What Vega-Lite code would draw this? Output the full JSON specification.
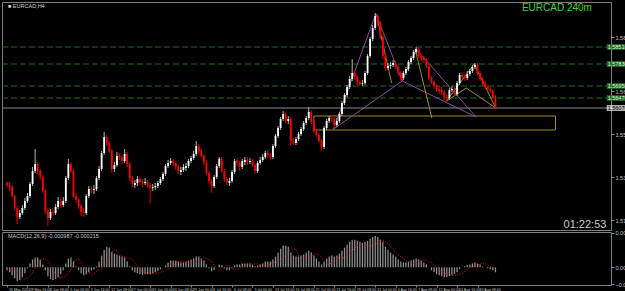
{
"$schema": "https://vega.github.io/schema/vega-lite/v6.json",
"background": "#000000",
"padding": {"left": 1, "top": 1, "right": 0, "bottom": 0},
"spacing": 2,
"bounds": "flush",
"config": {"view": {"stroke": "#808080", "strokeWidth": 1}, "axis": {"labelFont": "Liberation Sans", "labelColor": "#c8c8c8", "domainColor": "#808080", "tickColor": "#808080", "grid": false, "labelOverlap": false}, "text": {"font": "Liberation Sans"}},
"resolve": {"scale": {"x": "independent", "y": "independent", "color": "independent"}},
"datasets": {
"lv": [{"p":1.5851},{"p":1.5783},{"p":1.5695},{"p":1.5647}],
"cur": [{"p":1.5607}],
"zone": [{"a":240,"b":429,"p1":1.5575,"p2":1.5519}],
"pat": [
{"c":"pu","s":"XA","i":255.4,"p":1.5523},{"c":"pu","s":"XA","i":288.5,"p":1.5984},
{"c":"pu","s":"AB","i":288.5,"p":1.5984},{"c":"pu","s":"AB","i":309.2,"p":1.5715},
{"c":"pu","s":"BC","i":309.2,"p":1.5715},{"c":"pu","s":"BC","i":320,"p":1.5843},
{"c":"pu","s":"CD","i":320,"p":1.5843},{"c":"pu","s":"CD","i":366.9,"p":1.5571},
{"c":"pu","s":"XB","i":255.4,"p":1.5523},{"c":"pu","s":"XB","i":309.2,"p":1.5715},
{"c":"pu","s":"BD","i":309.2,"p":1.5715},{"c":"pu","s":"BD","i":366.9,"p":1.5571},
{"c":"go","s":"G1","i":290,"p":1.5955},{"c":"go","s":"G1","i":300.8,"p":1.5707},
{"c":"go","s":"G2","i":319.2,"p":1.5843},{"c":"go","s":"G2","i":332.3,"p":1.5567},
{"c":"go","s":"G3","i":343.8,"p":1.5635},{"c":"go","s":"G3","i":359.2,"p":1.5687},
{"c":"go","s":"G4","i":343.8,"p":1.5635},{"c":"go","s":"G4","i":365.4,"p":1.5783},
{"c":"go","s":"G5","i":365.4,"p":1.5783},{"c":"go","s":"G5","i":382.3,"p":1.5607},
{"c":"go","s":"G6","i":359.2,"p":1.5687},{"c":"go","s":"G6","i":382.3,"p":1.5607}
],
"c": [
{"i":0,"o":1.5307,"h":1.5315,"l":1.5287,"c":1.5299,"m":-0.0006,"s":-0.0004},
{"i":2,"o":1.5299,"h":1.5311,"l":1.5275,"c":1.5291,"m":-0.0010,"s":-0.0005},
{"i":4,"o":1.5291,"h":1.5299,"l":1.5247,"c":1.5255,"m":-0.0016,"s":-0.0006},
{"i":6,"o":1.5255,"h":1.5259,"l":1.5199,"c":1.5207,"m":-0.0022,"s":-0.0005},
{"i":8,"o":1.5207,"h":1.5215,"l":1.5143,"c":1.5171,"m":-0.0028,"s":-0.0009},
{"i":10,"o":1.5171,"h":1.5199,"l":1.5163,"c":1.5187,"m":-0.0026,"s":-0.0014},
{"i":12,"o":1.5187,"h":1.5219,"l":1.5179,"c":1.5207,"m":-0.0020,"s":-0.0019},
{"i":14,"o":1.5207,"h":1.5247,"l":1.5199,"c":1.5235,"m":-0.0012,"s":-0.0024},
{"i":16,"o":1.5235,"h":1.5267,"l":1.5227,"c":1.5255,"m":-0.0002,"s":-0.0022},
{"i":18,"o":1.5255,"h":1.5311,"l":1.5247,"c":1.5303,"m":0.0008,"s":-0.0017},
{"i":20,"o":1.5303,"h":1.5371,"l":1.5295,"c":1.5355,"m":0.0016,"s":-0.0010},
{"i":22,"o":1.5355,"h":1.5443,"l":1.5347,"c":1.5383,"m":0.0020,"s":-0.0002},
{"i":24,"o":1.5383,"h":1.5391,"l":1.5343,"c":1.5355,"m":0.0020,"s":0.0007},
{"i":26,"o":1.5355,"h":1.5363,"l":1.5319,"c":1.5331,"m":0.0016,"s":0.0014},
{"i":28,"o":1.5331,"h":1.5339,"l":1.5267,"c":1.5275,"m":0.0006,"s":0.0017},
{"i":30,"o":1.5275,"h":1.5283,"l":1.5183,"c":1.5195,"m":-0.0006,"s":0.0017},
{"i":32,"o":1.5195,"h":1.5207,"l":1.5135,"c":1.5167,"m":-0.0018,"s":0.0014},
{"i":34,"o":1.5167,"h":1.5203,"l":1.5159,"c":1.5191,"m":-0.0024,"s":0.0005},
{"i":36,"o":1.5191,"h":1.5207,"l":1.5175,"c":1.5187,"m":-0.0026,"s":-0.0005},
{"i":38,"o":1.5187,"h":1.5223,"l":1.5179,"c":1.5211,"m":-0.0024,"s":-0.0015},
{"i":40,"o":1.5211,"h":1.5251,"l":1.5203,"c":1.5235,"m":-0.0020,"s":-0.0020},
{"i":42,"o":1.5235,"h":1.5243,"l":1.5207,"c":1.5219,"m":-0.0014,"s":-0.0022},
{"i":44,"o":1.5219,"h":1.5251,"l":1.5211,"c":1.5235,"m":-0.0006,"s":-0.0020},
{"i":46,"o":1.5235,"h":1.5335,"l":1.5227,"c":1.5327,"m":0.0008,"s":-0.0017},
{"i":48,"o":1.5327,"h":1.5403,"l":1.5319,"c":1.5383,"m":0.0018,"s":-0.0012},
{"i":50,"o":1.5383,"h":1.5391,"l":1.5347,"c":1.5355,"m":0.0020,"s":-0.0005},
{"i":52,"o":1.5355,"h":1.5363,"l":1.5247,"c":1.5255,"m":0.0012,"s":0.0007},
{"i":54,"o":1.5255,"h":1.5267,"l":1.5227,"c":1.5239,"m":0.0002,"s":0.0015},
{"i":56,"o":1.5239,"h":1.5247,"l":1.5203,"c":1.5215,"m":-0.0006,"s":0.0017},
{"i":58,"o":1.5215,"h":1.5223,"l":1.5175,"c":1.5191,"m":-0.0012,"s":0.0010},
{"i":60,"o":1.5191,"h":1.5207,"l":1.5171,"c":1.5187,"m":-0.0016,"s":0.0002},
{"i":62,"o":1.5187,"h":1.5263,"l":1.5179,"c":1.5255,"m":-0.0014,"s":-0.0005},
{"i":64,"o":1.5255,"h":1.5295,"l":1.5247,"c":1.5283,"m":-0.0010,"s":-0.0010},
{"i":66,"o":1.5283,"h":1.5295,"l":1.5267,"c":1.5279,"m":-0.0006,"s":-0.0014},
{"i":68,"o":1.5279,"h":1.5299,"l":1.5263,"c":1.5283,"m":-0.0004,"s":-0.0012},
{"i":70,"o":1.5283,"h":1.5335,"l":1.5275,"c":1.5327,"m":0.0002,"s":-0.0009},
{"i":72,"o":1.5327,"h":1.5375,"l":1.5319,"c":1.5363,"m":0.0012,"s":-0.0005},
{"i":74,"o":1.5363,"h":1.5435,"l":1.5355,"c":1.5427,"m":0.0024,"s":-0.0003},
{"i":76,"o":1.5427,"h":1.5511,"l":1.5419,"c":1.5491,"m":0.0036,"s":0.0002},
{"i":78,"o":1.5491,"h":1.5499,"l":1.5455,"c":1.5467,"m":0.0042,"s":0.0010},
{"i":80,"o":1.5467,"h":1.5475,"l":1.5427,"c":1.5435,"m":0.0040,"s":0.0020},
{"i":82,"o":1.5435,"h":1.5443,"l":1.5347,"c":1.5363,"m":0.0032,"s":0.0031},
{"i":84,"o":1.5363,"h":1.5391,"l":1.5351,"c":1.5379,"m":0.0028,"s":0.0036},
{"i":86,"o":1.5379,"h":1.5431,"l":1.5371,"c":1.5415,"m":0.0026,"s":0.0034},
{"i":88,"o":1.5415,"h":1.5427,"l":1.5399,"c":1.5411,"m":0.0024,"s":0.0027},
{"i":90,"o":1.5411,"h":1.5419,"l":1.5383,"c":1.5395,"m":0.0022,"s":0.0024},
{"i":92,"o":1.5395,"h":1.5443,"l":1.5387,"c":1.5423,"m":0.0020,"s":0.0022},
{"i":94,"o":1.5423,"h":1.5431,"l":1.5371,"c":1.5383,"m":0.0012,"s":0.0020},
{"i":96,"o":1.5383,"h":1.5391,"l":1.5315,"c":1.5327,"m":0.0002,"s":0.0019},
{"i":98,"o":1.5327,"h":1.5335,"l":1.5291,"c":1.5303,"m":-0.0006,"s":0.0017},
{"i":100,"o":1.5299,"h":1.5319,"l":1.5287,"c":1.5307,"m":-0.0010,"s":0.0010},
{"i":102,"o":1.5307,"h":1.5335,"l":1.5295,"c":1.5323,"m":-0.0012,"s":0.0002},
{"i":104,"o":1.5323,"h":1.5331,"l":1.5299,"c":1.5311,"m":-0.0014,"s":-0.0005},
{"i":106,"o":1.5311,"h":1.5323,"l":1.5291,"c":1.5307,"m":-0.0016,"s":-0.0009},
{"i":108,"o":1.5307,"h":1.5327,"l":1.5299,"c":1.5311,"m":-0.0014,"s":-0.0010},
{"i":110,"o":1.5311,"h":1.5319,"l":1.5287,"c":1.5299,"m":-0.0014,"s":-0.0012},
{"i":112,"o":1.5299,"h":1.5307,"l":1.5227,"c":1.5287,"m":-0.0014,"s":-0.0014},
{"i":114,"o":1.5287,"h":1.5303,"l":1.5275,"c":1.5291,"m":-0.0012,"s":-0.0012},
{"i":116,"o":1.5291,"h":1.5307,"l":1.5279,"c":1.5295,"m":-0.0010,"s":-0.0012},
{"i":118,"o":1.5295,"h":1.5315,"l":1.5287,"c":1.5307,"m":-0.0008,"s":-0.0012},
{"i":120,"o":1.5307,"h":1.5331,"l":1.5299,"c":1.5323,"m":-0.0004,"s":-0.0010},
{"i":122,"o":1.5323,"h":1.5351,"l":1.5315,"c":1.5343,"m":0.0000,"s":-0.0009},
{"i":124,"o":1.5343,"h":1.5383,"l":1.5335,"c":1.5375,"m":0.0004,"s":-0.0007},
{"i":126,"o":1.5375,"h":1.5399,"l":1.5367,"c":1.5387,"m":0.0010,"s":-0.0003},
{"i":128,"o":1.5387,"h":1.5407,"l":1.5379,"c":1.5395,"m":0.0014,"s":0.0000},
{"i":130,"o":1.5395,"h":1.5403,"l":1.5375,"c":1.5387,"m":0.0014,"s":0.0003},
{"i":132,"o":1.5387,"h":1.5395,"l":1.5359,"c":1.5371,"m":0.0014,"s":0.0009},
{"i":134,"o":1.5371,"h":1.5379,"l":1.5343,"c":1.5355,"m":0.0012,"s":0.0012},
{"i":136,"o":1.5351,"h":1.5371,"l":1.5339,"c":1.5359,"m":0.0010,"s":0.0012},
{"i":138,"o":1.5359,"h":1.5383,"l":1.5351,"c":1.5371,"m":0.0010,"s":0.0012},
{"i":140,"o":1.5367,"h":1.5387,"l":1.5355,"c":1.5375,"m":0.0012,"s":0.0010},
{"i":142,"o":1.5375,"h":1.5403,"l":1.5367,"c":1.5395,"m":0.0014,"s":0.0009},
{"i":144,"o":1.5395,"h":1.5415,"l":1.5387,"c":1.5407,"m":0.0016,"s":0.0009},
{"i":146,"o":1.5407,"h":1.5435,"l":1.5399,"c":1.5423,"m":0.0018,"s":0.0010},
{"i":148,"o":1.5423,"h":1.5475,"l":1.5415,"c":1.5455,"m":0.0022,"s":0.0012},
{"i":150,"o":1.5455,"h":1.5463,"l":1.5423,"c":1.5435,"m":0.0022,"s":0.0014},
{"i":152,"o":1.5435,"h":1.5443,"l":1.5407,"c":1.5415,"m":0.0018,"s":0.0015},
{"i":154,"o":1.5415,"h":1.5423,"l":1.5379,"c":1.5391,"m":0.0014,"s":0.0019},
{"i":156,"o":1.5391,"h":1.5399,"l":1.5339,"c":1.5347,"m":0.0006,"s":0.0019},
{"i":158,"o":1.5347,"h":1.5355,"l":1.5303,"c":1.5315,"m":-0.0002,"s":0.0015},
{"i":160,"o":1.5315,"h":1.5323,"l":1.5267,"c":1.5295,"m":-0.0008,"s":0.0012},
{"i":162,"o":1.5295,"h":1.5339,"l":1.5287,"c":1.5331,"m":-0.0006,"s":0.0005},
{"i":164,"o":1.5331,"h":1.5383,"l":1.5323,"c":1.5375,"m":0.0000,"s":-0.0002},
{"i":166,"o":1.5375,"h":1.5411,"l":1.5367,"c":1.5403,"m":0.0006,"s":-0.0007},
{"i":168,"o":1.5403,"h":1.5411,"l":1.5347,"c":1.5355,"m":0.0004,"s":-0.0005},
{"i":170,"o":1.5355,"h":1.5363,"l":1.5311,"c":1.5323,"m":-0.0002,"s":0.0000},
{"i":172,"o":1.5323,"h":1.5331,"l":1.5299,"c":1.5311,"m":-0.0006,"s":0.0005},
{"i":174,"o":1.5307,"h":1.5327,"l":1.5295,"c":1.5315,"m":-0.0006,"s":0.0003},
{"i":176,"o":1.5315,"h":1.5359,"l":1.5307,"c":1.5351,"m":-0.0002,"s":-0.0002},
{"i":178,"o":1.5351,"h":1.5403,"l":1.5343,"c":1.5395,"m":0.0004,"s":-0.0005},
{"i":180,"o":1.5395,"h":1.5407,"l":1.5375,"c":1.5387,"m":0.0006,"s":-0.0005},
{"i":182,"o":1.5387,"h":1.5395,"l":1.5355,"c":1.5371,"m":0.0006,"s":-0.0002},
{"i":184,"o":1.5371,"h":1.5403,"l":1.5363,"c":1.5395,"m":0.0008,"s":0.0003},
{"i":186,"o":1.5391,"h":1.5411,"l":1.5379,"c":1.5399,"m":0.0008,"s":0.0005},
{"i":188,"o":1.5399,"h":1.5411,"l":1.5379,"c":1.5391,"m":0.0008,"s":0.0005},
{"i":190,"o":1.5391,"h":1.5407,"l":1.5383,"c":1.5395,"m":0.0008,"s":0.0007},
{"i":192,"o":1.5395,"h":1.5403,"l":1.5371,"c":1.5379,"m":0.0006,"s":0.0007},
{"i":194,"o":1.5379,"h":1.5387,"l":1.5343,"c":1.5355,"m":0.0002,"s":0.0007},
{"i":196,"o":1.5355,"h":1.5395,"l":1.5347,"c":1.5387,"m":0.0004,"s":0.0007},
{"i":198,"o":1.5387,"h":1.5411,"l":1.5379,"c":1.5399,"m":0.0006,"s":0.0005},
{"i":200,"o":1.5399,"h":1.5423,"l":1.5391,"c":1.5411,"m":0.0008,"s":0.0002},
{"i":202,"o":1.5411,"h":1.5435,"l":1.5403,"c":1.5427,"m":0.0012,"s":0.0003},
{"i":204,"o":1.5427,"h":1.5439,"l":1.5407,"c":1.5419,"m":0.0012,"s":0.0005},
{"i":206,"o":1.5419,"h":1.5427,"l":1.5399,"c":1.5411,"m":0.0012,"s":0.0007},
{"i":208,"o":1.5411,"h":1.5463,"l":1.5403,"c":1.5455,"m":0.0016,"s":0.0010},
{"i":210,"o":1.5455,"h":1.5503,"l":1.5447,"c":1.5495,"m":0.0022,"s":0.0010},
{"i":212,"o":1.5495,"h":1.5535,"l":1.5487,"c":1.5527,"m":0.0030,"s":0.0010},
{"i":214,"o":1.5527,"h":1.5571,"l":1.5519,"c":1.5563,"m":0.0038,"s":0.0014},
{"i":216,"o":1.5563,"h":1.5595,"l":1.5555,"c":1.5583,"m":0.0044,"s":0.0019},
{"i":218,"o":1.5583,"h":1.5591,"l":1.5547,"c":1.5555,"m":0.0044,"s":0.0026},
{"i":220,"o":1.5555,"h":1.5575,"l":1.5543,"c":1.5563,"m":0.0042,"s":0.0032},
{"i":222,"o":1.5563,"h":1.5571,"l":1.5455,"c":1.5475,"m":0.0030,"s":0.0037},
{"i":224,"o":1.5475,"h":1.5487,"l":1.5459,"c":1.5467,"m":0.0024,"s":0.0037},
{"i":226,"o":1.5467,"h":1.5491,"l":1.5459,"c":1.5483,"m":0.0022,"s":0.0036},
{"i":228,"o":1.5483,"h":1.5511,"l":1.5475,"c":1.5503,"m":0.0022,"s":0.0026},
{"i":230,"o":1.5503,"h":1.5531,"l":1.5495,"c":1.5523,"m":0.0024,"s":0.0020},
{"i":232,"o":1.5523,"h":1.5555,"l":1.5515,"c":1.5547,"m":0.0026,"s":0.0019},
{"i":234,"o":1.5547,"h":1.5575,"l":1.5539,"c":1.5567,"m":0.0030,"s":0.0019},
{"i":236,"o":1.5567,"h":1.5611,"l":1.5559,"c":1.5591,"m":0.0034,"s":0.0020},
{"i":238,"o":1.5591,"h":1.5599,"l":1.5543,"c":1.5551,"m":0.0030,"s":0.0022},
{"i":240,"o":1.5551,"h":1.5559,"l":1.5507,"c":1.5515,"m":0.0024,"s":0.0026},
{"i":242,"o":1.5515,"h":1.5523,"l":1.5491,"c":1.5499,"m":0.0018,"s":0.0029},
{"i":244,"o":1.5499,"h":1.5507,"l":1.5467,"c":1.5475,"m":0.0012,"s":0.0026},
{"i":246,"o":1.5475,"h":1.5483,"l":1.5435,"c":1.5451,"m":0.0006,"s":0.0020},
{"i":248,"o":1.5451,"h":1.5535,"l":1.5443,"c":1.5527,"m":0.0012,"s":0.0015},
{"i":250,"o":1.5527,"h":1.5563,"l":1.5519,"c":1.5555,"m":0.0018,"s":0.0010},
{"i":252,"o":1.5555,"h":1.5575,"l":1.5547,"c":1.5567,"m":0.0022,"s":0.0005},
{"i":254,"o":1.5567,"h":1.5579,"l":1.5551,"c":1.5563,"m":0.0024,"s":0.0010},
{"i":256,"o":1.5563,"h":1.5571,"l":1.5531,"c":1.5539,"m":0.0022,"s":0.0015},
{"i":258,"o":1.5539,"h":1.5567,"l":1.5531,"c":1.5555,"m":0.0024,"s":0.0019},
{"i":260,"o":1.5555,"h":1.5591,"l":1.5547,"c":1.5583,"m":0.0028,"s":0.0020},
{"i":262,"o":1.5583,"h":1.5635,"l":1.5575,"c":1.5627,"m":0.0034,"s":0.0019},
{"i":264,"o":1.5627,"h":1.5667,"l":1.5619,"c":1.5659,"m":0.0040,"s":0.0020},
{"i":266,"o":1.5659,"h":1.5699,"l":1.5651,"c":1.5691,"m":0.0046,"s":0.0024},
{"i":268,"o":1.5691,"h":1.5735,"l":1.5683,"c":1.5723,"m":0.0052,"s":0.0029},
{"i":270,"o":1.5723,"h":1.5803,"l":1.5715,"c":1.5747,"m":0.0056,"s":0.0034},
{"i":272,"o":1.5747,"h":1.5755,"l":1.5719,"c":1.5731,"m":0.0056,"s":0.0039},
{"i":274,"o":1.5731,"h":1.5739,"l":1.5699,"c":1.5711,"m":0.0054,"s":0.0044},
{"i":276,"o":1.5711,"h":1.5719,"l":1.5695,"c":1.5703,"m":0.0052,"s":0.0048},
{"i":278,"o":1.5703,"h":1.5719,"l":1.5695,"c":1.5707,"m":0.0050,"s":0.0048},
{"i":280,"o":1.5707,"h":1.5755,"l":1.5699,"c":1.5747,"m":0.0052,"s":0.0046},
{"i":282,"o":1.5747,"h":1.5823,"l":1.5739,"c":1.5815,"m":0.0054,"s":0.0044},
{"i":284,"o":1.5815,"h":1.5891,"l":1.5807,"c":1.5883,"m":0.0058,"s":0.0043},
{"i":286,"o":1.5883,"h":1.5939,"l":1.5875,"c":1.5927,"m":0.0062,"s":0.0044},
{"i":288,"o":1.5927,"h":1.5987,"l":1.5919,"c":1.5975,"m":0.0064,"s":0.0046},
{"i":290,"o":1.5975,"h":1.5983,"l":1.5935,"c":1.5947,"m":0.0062,"s":0.0049},
{"i":292,"o":1.5947,"h":1.5955,"l":1.5883,"c":1.5891,"m":0.0056,"s":0.0053},
{"i":294,"o":1.5891,"h":1.5899,"l":1.5803,"c":1.5815,"m":0.0052,"s":0.0054},
{"i":296,"o":1.5815,"h":1.5823,"l":1.5755,"c":1.5767,"m":0.0042,"s":0.0053},
{"i":298,"o":1.5767,"h":1.5787,"l":1.5759,"c":1.5775,"m":0.0036,"s":0.0048},
{"i":300,"o":1.5775,"h":1.5791,"l":1.5763,"c":1.5779,"m":0.0030,"s":0.0044},
{"i":302,"o":1.5779,"h":1.5799,"l":1.5771,"c":1.5787,"m":0.0026,"s":0.0036},
{"i":304,"o":1.5787,"h":1.5795,"l":1.5763,"c":1.5771,"m":0.0022,"s":0.0031},
{"i":306,"o":1.5771,"h":1.5779,"l":1.5735,"c":1.5747,"m":0.0016,"s":0.0026},
{"i":308,"o":1.5747,"h":1.5755,"l":1.5715,"c":1.5727,"m":0.0012,"s":0.0022},
{"i":310,"o":1.5727,"h":1.5755,"l":1.5719,"c":1.5747,"m":0.0010,"s":0.0019},
{"i":312,"o":1.5747,"h":1.5771,"l":1.5739,"c":1.5763,"m":0.0010,"s":0.0014},
{"i":314,"o":1.5763,"h":1.5799,"l":1.5755,"c":1.5791,"m":0.0012,"s":0.0010},
{"i":316,"o":1.5791,"h":1.5815,"l":1.5783,"c":1.5807,"m":0.0014,"s":0.0009},
{"i":318,"o":1.5807,"h":1.5839,"l":1.5799,"c":1.5831,"m":0.0016,"s":0.0009},
{"i":320,"o":1.5831,"h":1.5851,"l":1.5823,"c":1.5843,"m":0.0018,"s":0.0010},
{"i":322,"o":1.5843,"h":1.5851,"l":1.5807,"c":1.5815,"m":0.0016,"s":0.0012},
{"i":324,"o":1.5815,"h":1.5823,"l":1.5795,"c":1.5803,"m":0.0014,"s":0.0014},
{"i":326,"o":1.5807,"h":1.5815,"l":1.5787,"c":1.5799,"m":0.0010,"s":0.0015},
{"i":328,"o":1.5799,"h":1.5807,"l":1.5767,"c":1.5775,"m":0.0006,"s":0.0014},
{"i":330,"o":1.5775,"h":1.5783,"l":1.5719,"c":1.5727,"m":0.0000,"s":0.0012},
{"i":332,"o":1.5727,"h":1.5735,"l":1.5703,"c":1.5711,"m":-0.0006,"s":0.0009},
{"i":334,"o":1.5711,"h":1.5719,"l":1.5683,"c":1.5695,"m":-0.0010,"s":0.0005},
{"i":336,"o":1.5695,"h":1.5703,"l":1.5671,"c":1.5683,"m":-0.0014,"s":0.0000},
{"i":338,"o":1.5683,"h":1.5695,"l":1.5663,"c":1.5675,"m":-0.0016,"s":-0.0005},
{"i":340,"o":1.5679,"h":1.5691,"l":1.5659,"c":1.5671,"m":-0.0018,"s":-0.0009},
{"i":342,"o":1.5671,"h":1.5679,"l":1.5639,"c":1.5651,"m":-0.0020,"s":-0.0012},
{"i":344,"o":1.5651,"h":1.5663,"l":1.5631,"c":1.5647,"m":-0.0020,"s":-0.0014},
{"i":346,"o":1.5647,"h":1.5687,"l":1.5639,"c":1.5679,"m":-0.0018,"s":-0.0015},
{"i":348,"o":1.5679,"h":1.5695,"l":1.5671,"c":1.5683,"m":-0.0016,"s":-0.0017},
{"i":350,"o":1.5683,"h":1.5691,"l":1.5655,"c":1.5663,"m":-0.0014,"s":-0.0017},
{"i":352,"o":1.5663,"h":1.5715,"l":1.5655,"c":1.5707,"m":-0.0010,"s":-0.0015},
{"i":354,"o":1.5707,"h":1.5747,"l":1.5699,"c":1.5739,"m":-0.0004,"s":-0.0014},
{"i":356,"o":1.5739,"h":1.5751,"l":1.5723,"c":1.5731,"m":0.0000,"s":-0.0012},
{"i":358,"o":1.5731,"h":1.5743,"l":1.5715,"c":1.5727,"m":0.0002,"s":-0.0009},
{"i":360,"o":1.5727,"h":1.5755,"l":1.5719,"c":1.5743,"m":0.0004,"s":-0.0003},
{"i":362,"o":1.5743,"h":1.5763,"l":1.5735,"c":1.5755,"m":0.0006,"s":0.0000},
{"i":364,"o":1.5755,"h":1.5779,"l":1.5747,"c":1.5771,"m":0.0008,"s":0.0002},
{"i":366,"o":1.5771,"h":1.5787,"l":1.5763,"c":1.5779,"m":0.0010,"s":0.0003},
{"i":368,"o":1.5779,"h":1.5787,"l":1.5739,"c":1.5747,"m":0.0008,"s":0.0005},
{"i":370,"o":1.5747,"h":1.5755,"l":1.5715,"c":1.5723,"m":0.0006,"s":0.0007},
{"i":372,"o":1.5723,"h":1.5731,"l":1.5695,"c":1.5703,"m":0.0002,"s":0.0009},
{"i":374,"o":1.5703,"h":1.5715,"l":1.5683,"c":1.5691,"m":0.0000,"s":0.0007},
{"i":376,"o":1.5691,"h":1.5699,"l":1.5675,"c":1.5683,"m":-0.0002,"s":0.0005},
{"i":378,"o":1.5683,"h":1.5691,"l":1.5667,"c":1.5675,"m":-0.0004,"s":0.0002},
{"i":380,"o":1.5675,"h":1.5683,"l":1.5643,"c":1.5651,"m":-0.0006,"s":0.0000},
{"i":382,"o":1.5651,"h":1.5659,"l":1.5603,"c":1.5607,"m":-0.0010,"s":-0.0002}
]
},
"vconcat": [
{
"width": 609, "height": 228,
"layer": [
{"data": {"name": "lv"}, "mark": {"type": "rule", "color": "#1f6e1f", "strokeDash": [6, 3], "strokeWidth": 1},
 "encoding": {"y": {"field": "p", "type": "quantitative", "scale": {"domain": [1.5119, 1.6031], "nice": false, "zero": false},
  "axis": {"orient": "right", "values": [1.6019,1.5976,1.5933,1.5890,1.5804,1.5761,1.5718,1.5675,1.5632,1.5589,1.5546,1.5503,1.5460,1.5417,1.5374,1.5331,1.5288,1.5245,1.5202,1.5159], "format": ".5f", "tickSize": 3, "labelPadding": 1, "labelFontSize": 5.5, "labelOverlap": false, "labelFlush": false, "labelBound": false, "title": null}}}},
{"data": {"name": "cur"}, "mark": {"type": "rule", "color": "#8a8a8a", "strokeWidth": 1},
 "encoding": {"y": {"field": "p", "type": "quantitative", "scale": {"domain": [1.5119, 1.6031], "nice": false, "zero": false}}}},
{"data": {"name": "zone"}, "mark": {"type": "rect", "fillOpacity": 0, "stroke": "#9c8a36", "strokeWidth": 1},
 "encoding": {"x": {"field": "a", "type": "quantitative", "scale": {"domain": [0, 468.5], "nice": false, "zero": false}, "axis": null},
  "x2": {"field": "b"},
  "y": {"field": "p1", "type": "quantitative", "scale": {"domain": [1.5119, 1.6031], "nice": false, "zero": false}},
  "y2": {"field": "p2"}}},
{"data": {"name": "pat"}, "mark": {"type": "line", "strokeWidth": 1},
 "encoding": {"x": {"field": "i", "type": "quantitative", "scale": {"domain": [0, 468.5], "nice": false, "zero": false}, "axis": null},
  "y": {"field": "p", "type": "quantitative", "scale": {"domain": [1.5119, 1.6031], "nice": false, "zero": false}},
  "detail": {"field": "s"},
  "color": {"field": "c", "type": "nominal", "scale": {"domain": ["pu", "go"], "range": ["#8e48a8", "#a88a2a"]}, "legend": null}}},
{"data": {"name": "c"}, "mark": {"type": "rule", "strokeWidth": 1},
 "encoding": {"x": {"field": "i", "type": "quantitative", "scale": {"domain": [0, 468.5], "nice": false, "zero": false}, "axis": null},
  "y": {"field": "l", "type": "quantitative", "scale": {"domain": [1.5119, 1.6031], "nice": false, "zero": false}},
  "y2": {"field": "h"},
  "color": {"condition": {"test": "datum.c >= datum.o", "value": "#b4b4b4"}, "value": "#e00000"}}},
{"data": {"name": "c"}, "mark": {"type": "bar", "width": 1.8},
 "encoding": {"x": {"field": "i", "type": "quantitative", "scale": {"domain": [0, 468.5], "nice": false, "zero": false}, "axis": null},
  "y": {"field": "o", "type": "quantitative", "scale": {"domain": [1.5119, 1.6031], "nice": false, "zero": false}},
  "y2": {"field": "c"},
  "color": {"condition": {"test": "datum.c >= datum.o", "value": "#ffffff"}, "value": "#ff0000"}}},
{"data": {"name": "lv"}, "mark": {"type": "tick", "orient": "horizontal", "size": 28, "thickness": 6, "color": "#1f8a1f", "clip": false},
 "encoding": {"x": {"datum": 480, "type": "quantitative", "scale": {"domain": [0, 468.5], "nice": false, "zero": false}},
  "y": {"field": "p", "type": "quantitative", "scale": {"domain": [1.5119, 1.6031], "nice": false, "zero": false}}}},
{"data": {"name": "lv"}, "mark": {"type": "text", "align": "left", "baseline": "middle", "fontSize": 5.5, "color": "#e8ffe8", "clip": false},
 "encoding": {"x": {"datum": 469.8, "type": "quantitative", "scale": {"domain": [0, 468.5], "nice": false, "zero": false}},
  "y": {"field": "p", "type": "quantitative", "scale": {"domain": [1.5119, 1.6031], "nice": false, "zero": false}},
  "text": {"field": "p", "format": ".5f"}}},
{"data": {"name": "cur"}, "mark": {"type": "tick", "orient": "horizontal", "size": 28, "thickness": 6, "color": "#ffffff", "clip": false},
 "encoding": {"x": {"datum": 480, "type": "quantitative", "scale": {"domain": [0, 468.5], "nice": false, "zero": false}},
  "y": {"field": "p", "type": "quantitative", "scale": {"domain": [1.5119, 1.6031], "nice": false, "zero": false}}}},
{"data": {"name": "cur"}, "mark": {"type": "text", "align": "left", "baseline": "middle", "fontSize": 5.5, "color": "#000000", "clip": false},
 "encoding": {"x": {"datum": 469.8, "type": "quantitative", "scale": {"domain": [0, 468.5], "nice": false, "zero": false}},
  "y": {"field": "p", "type": "quantitative", "scale": {"domain": [1.5119, 1.6031], "nice": false, "zero": false}},
  "text": {"field": "p", "format": ".5f"}}},
{"data": {"values": [{}]}, "mark": {"type": "text", "text": "■ EURCAD,H4", "align": "left", "baseline": "middle", "fontSize": 5.5, "color": "#d0d0d0"},
 "encoding": {"x": {"datum": 0.8, "type": "quantitative", "scale": {"domain": [0, 468.5], "nice": false, "zero": false}},
  "y": {"datum": 1.6015, "type": "quantitative", "scale": {"domain": [1.5119, 1.6031], "nice": false, "zero": false}}}},
{"data": {"values": [{}]}, "mark": {"type": "text", "text": "EURCAD  240m", "align": "right", "baseline": "middle", "fontSize": 10, "color": "#33dd33"},
 "encoding": {"x": {"datum": 457.5, "type": "quantitative", "scale": {"domain": [0, 468.5], "nice": false, "zero": false}},
  "y": {"datum": 1.6009, "type": "quantitative", "scale": {"domain": [1.5119, 1.6031], "nice": false, "zero": false}}}},
{"data": {"values": [{}]}, "mark": {"type": "text", "text": "01:22:53", "align": "right", "baseline": "middle", "fontSize": 11, "color": "#c8c8c8"},
 "encoding": {"x": {"datum": 468.8, "type": "quantitative", "scale": {"domain": [0, 468.5], "nice": false, "zero": false}},
  "y": {"datum": 1.5141, "type": "quantitative", "scale": {"domain": [1.5119, 1.6031], "nice": false, "zero": false}}}}
]
},
{
"width": 609, "height": 53,
"layer": [
{"data": {"name": "c"}, "mark": {"type": "bar", "width": 1.3, "color": "#8c8c8c"},
 "encoding": {"x": {"field": "i", "type": "quantitative", "scale": {"domain": [0, 468.5], "nice": false, "zero": false},
   "axis": {"orient": "bottom", "values": [0,16,32,48,64,80,96,112,128,144,160,176,192,208,224,240,256,272,288,304,320,336,352,368], "labelExpr": "['26 May 2020','28 May 16:00','2 Jun 08:00','5 Jun 00:00','9 Jun 16:00','12 Jun 08:00','17 Jun 00:00','19 Jun 16:00','24 Jun 08:00','29 Jun 00:00','1 Jul 16:00','6 Jul 08:00','9 Jul 00:00','13 Jul 16:00','16 Jul 08:00','21 Jul 00:00','23 Jul 16:00','28 Jul 08:00','31 Jul 00:00','4 Aug 16:00','7 Aug 08:00','12 Aug 00:00','14 Aug 16:00','19 Aug 08:00'][round(datum.value/16)]", "labelAlign": "left", "labelOffset": 1.5, "tickSize": 2, "labelPadding": 0.5, "labelFontSize": 3.6, "labelOverlap": false, "labelFlush": false, "labelBound": false, "title": null}},
  "y": {"field": "m", "type": "quantitative", "scale": {"domain": [-0.0036, 0.0072], "nice": false, "zero": false},
   "axis": {"orient": "right", "values": [0.0070, 0, -0.0034], "labelExpr": "datum.value == 0 ? '0.00' : format(datum.value, '.6f')", "tickSize": 3, "labelPadding": 1, "labelFontSize": 5.5, "labelOverlap": false, "labelFlush": false, "title": null}},
  "y2": {"datum": 0}}},
{"data": {"name": "c"}, "mark": {"type": "line", "color": "#ff1010", "strokeDash": [1, 1.6], "strokeWidth": 1},
 "encoding": {"x": {"field": "i", "type": "quantitative", "scale": {"domain": [0, 468.5], "nice": false, "zero": false},
   "axis": {"orient": "bottom", "values": [0,16,32,48,64,80,96,112,128,144,160,176,192,208,224,240,256,272,288,304,320,336,352,368], "labelExpr": "['26 May 2020','28 May 16:00','2 Jun 08:00','5 Jun 00:00','9 Jun 16:00','12 Jun 08:00','17 Jun 00:00','19 Jun 16:00','24 Jun 08:00','29 Jun 00:00','1 Jul 16:00','6 Jul 08:00','9 Jul 00:00','13 Jul 16:00','16 Jul 08:00','21 Jul 00:00','23 Jul 16:00','28 Jul 08:00','31 Jul 00:00','4 Aug 16:00','7 Aug 08:00','12 Aug 00:00','14 Aug 16:00','19 Aug 08:00'][round(datum.value/16)]", "labelAlign": "left", "labelOffset": 1.5, "tickSize": 2, "labelPadding": 0.5, "labelFontSize": 3.6, "labelOverlap": false, "labelFlush": false, "labelBound": false, "title": null}},
  "y": {"field": "s", "type": "quantitative", "scale": {"domain": [-0.0036, 0.0072], "nice": false, "zero": false},
   "axis": {"orient": "right", "values": [0.0070, 0, -0.0034], "labelExpr": "datum.value == 0 ? '0.00' : format(datum.value, '.6f')", "tickSize": 3, "labelPadding": 1, "labelFontSize": 5.5, "labelOverlap": false, "labelFlush": false, "title": null}}}},
{"data": {"values": [{}]}, "mark": {"type": "text", "text": "MACD(12,26,9) -0.000987 -0.000215", "align": "left", "baseline": "middle", "fontSize": 5.5, "color": "#c8c8c8"},
 "encoding": {"x": {"datum": 0.8, "type": "quantitative", "scale": {"domain": [0, 468.5], "nice": false, "zero": false},
   "axis": {"orient": "bottom", "values": [0,16,32,48,64,80,96,112,128,144,160,176,192,208,224,240,256,272,288,304,320,336,352,368], "labelExpr": "['26 May 2020','28 May 16:00','2 Jun 08:00','5 Jun 00:00','9 Jun 16:00','12 Jun 08:00','17 Jun 00:00','19 Jun 16:00','24 Jun 08:00','29 Jun 00:00','1 Jul 16:00','6 Jul 08:00','9 Jul 00:00','13 Jul 16:00','16 Jul 08:00','21 Jul 00:00','23 Jul 16:00','28 Jul 08:00','31 Jul 00:00','4 Aug 16:00','7 Aug 08:00','12 Aug 00:00','14 Aug 16:00','19 Aug 08:00'][round(datum.value/16)]", "labelAlign": "left", "labelOffset": 1.5, "tickSize": 2, "labelPadding": 0.5, "labelFontSize": 3.6, "labelOverlap": false, "labelFlush": false, "labelBound": false, "title": null}},
  "y": {"datum": 0.0064, "type": "quantitative", "scale": {"domain": [-0.0036, 0.0072], "nice": false, "zero": false},
   "axis": {"orient": "right", "values": [0.0070, 0, -0.0034], "labelExpr": "datum.value == 0 ? '0.00' : format(datum.value, '.6f')", "tickSize": 3, "labelPadding": 1, "labelFontSize": 5.5, "labelOverlap": false, "labelFlush": false, "title": null}}}}
]
}
]
}
